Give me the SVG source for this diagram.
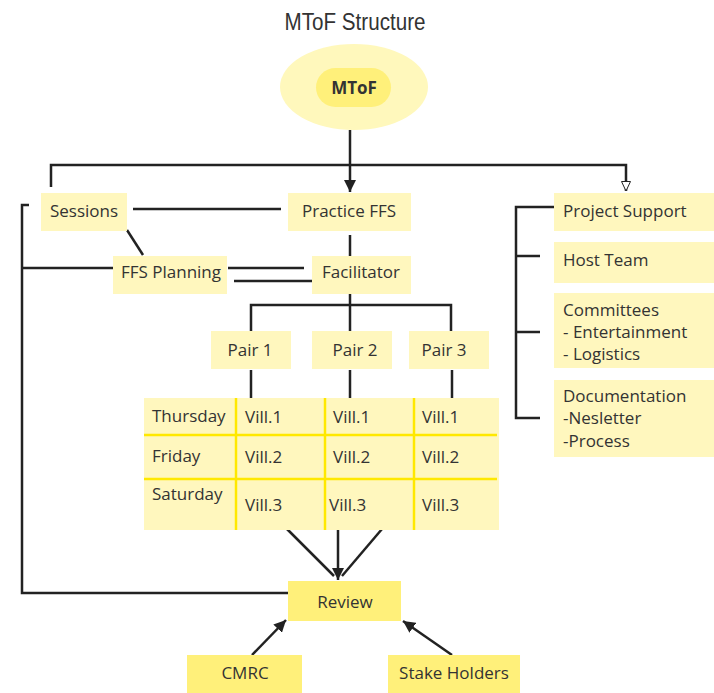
<svg xmlns="http://www.w3.org/2000/svg" width="714" height="693" viewBox="0 0 714 693">
<style>
  .t{font-family:"Open Sans","Noto Sans","Liberation Sans",sans-serif;font-size:17px;fill:#333}
  .c{text-anchor:middle}
  .box{fill:#fff7be}
  .boxs{fill:#fff07a}
  .ln{stroke:#222;stroke-width:2.5;fill:none}
  .div{stroke:#ffe800;stroke-width:2.5}
</style>
<defs>
  <marker id="af" markerUnits="userSpaceOnUse" markerWidth="14" markerHeight="12" refX="12" refY="6" orient="auto">
    <path d="M0,0 L12,6 L0,12 Z" fill="#222"/>
  </marker>
  <marker id="ah" markerUnits="userSpaceOnUse" markerWidth="12" markerHeight="12" refX="10" refY="5" orient="auto">
    <path d="M0.5,0.5 L10,5 L0.5,9.5 Z" fill="#fff" stroke="#222" stroke-width="1"/>
  </marker>
</defs>
<rect width="714" height="693" fill="#fff"/>
<text x="355" y="30" text-anchor="middle" font-family="'Liberation Sans',Arial,sans-serif" font-size="23" fill="#333" textLength="141" lengthAdjust="spacingAndGlyphs">MToF Structure</text>

<g id="connectors">
  <path class="ln" d="M350,130 V192" marker-end="url(#af)"/>
  <path class="ln" d="M51,187 V165 H626 V191" marker-end="url(#ah)"/>
  <path class="ln" d="M133,209 H281"/>
  <path class="ln" d="M127,230 L143,255"/>
  <path class="ln" d="M350,235 V256"/>
  <path class="ln" d="M228,268 H304"/>
  <path class="ln" d="M234,281 H312"/>
  <path class="ln" d="M29,205 H22 V593 H288"/>
  <path class="ln" d="M22,268 H113"/>
  <path class="ln" d="M350,294 V305"/>
  <path class="ln" d="M251,331 V305 H451 V331"/>
  <path class="ln" d="M350,305 V331"/>
  <path class="ln" d="M251,370 V398"/>
  <path class="ln" d="M350,370 V398"/>
  <path class="ln" d="M452,370 V398"/>
  <path class="ln" d="M287,529 L334,576"/>
  <path class="ln" d="M382,529 L342,576"/>
  <path class="ln" d="M338,530 V580" marker-end="url(#af)"/>
  <path class="ln" d="M252,655 L286,620" marker-end="url(#af)"/>
  <path class="ln" d="M452,655 L403,621" marker-end="url(#af)"/>
  <path class="ln" d="M554,207 H516 V418 H540"/>
  <path class="ln" d="M516,256 H540"/>
  <path class="ln" d="M516,332 H540"/>
</g>

<g id="mtof">
  <ellipse cx="354" cy="87" rx="74" ry="43" fill="#fff8bc"/>
  <rect x="316" y="68" width="75" height="39" rx="19.5" fill="#fff07a"/>
  <text class="t c" x="354" y="94" font-weight="bold" font-size="17">MToF</text>
</g>
<g id="sessions">
  <rect class="box" x="41" y="193" width="86" height="38"/>
  <text class="t c" x="84" y="217">Sessions</text>
</g>
<g id="practice">
  <rect class="box" x="288" y="193" width="123" height="38"/>
  <text class="t c" x="349" y="217">Practice FFS</text>
</g>
<g id="planning">
  <rect class="box" x="113" y="256" width="114" height="38"/>
  <text class="t c" x="171" y="278">FFS Planning</text>
</g>
<g id="facilitator">
  <rect class="box" x="312" y="256" width="99" height="38"/>
  <text class="t c" x="361" y="278">Facilitator</text>
</g>
<g id="pair1">
  <rect class="box" x="211" y="331" width="80" height="38"/>
  <text class="t c" x="250" y="356">Pair 1</text>
</g>
<g id="pair2">
  <rect class="box" x="312" y="331" width="80" height="38"/>
  <text class="t c" x="355" y="356">Pair 2</text>
</g>
<g id="pair3">
  <rect class="box" x="409" y="331" width="80" height="38"/>
  <text class="t c" x="444" y="356">Pair 3</text>
</g>
<g id="schedule">
  <rect class="box" x="144" y="398" width="355" height="132"/>
  <line class="div" x1="236" y1="398" x2="236" y2="530"/>
  <line class="div" x1="325" y1="398" x2="325" y2="530"/>
  <line class="div" x1="414" y1="398" x2="414" y2="530"/>
  <line class="div" x1="144" y1="435" x2="497" y2="435"/>
  <line class="div" x1="144" y1="479" x2="497" y2="479"/>
  <text class="t" x="152" y="422">Thursday</text>
  <text class="t" x="245" y="423">Vill.1</text>
  <text class="t" x="333" y="423">Vill.1</text>
  <text class="t" x="422" y="423">Vill.1</text>
  <text class="t" x="152" y="462">Friday</text>
  <text class="t" x="245" y="463">Vill.2</text>
  <text class="t" x="333" y="463">Vill.2</text>
  <text class="t" x="422" y="463">Vill.2</text>
  <text class="t" x="152" y="500">Saturday</text>
  <text class="t" x="245" y="511">Vill.3</text>
  <text class="t" x="329" y="511">Vill.3</text>
  <text class="t" x="422" y="511">Vill.3</text>
</g>
<g id="review">
  <rect class="boxs" x="288" y="581" width="113" height="40"/>
  <text class="t c" x="345" y="608">Review</text>
</g>
<g id="cmrc">
  <rect class="boxs" x="187" y="655" width="115" height="38"/>
  <text class="t c" x="245" y="679">CMRC</text>
</g>
<g id="stakeholders">
  <rect class="boxs" x="388" y="655" width="132" height="38"/>
  <text class="t c" x="454" y="679">Stake Holders</text>
</g>
<g id="projectsupport">
  <rect class="box" x="554" y="193" width="160" height="38"/>
  <text class="t" x="563" y="217">Project Support</text>
</g>
<g id="hostteam">
  <rect class="box" x="554" y="242" width="160" height="41"/>
  <text class="t" x="563" y="266">Host Team</text>
</g>
<g id="committees">
  <rect class="box" x="554" y="293" width="160" height="75"/>
  <text class="t" x="563" y="316">Committees</text>
  <text class="t" x="563" y="338">- Entertainment</text>
  <text class="t" x="563" y="360">- Logistics</text>
</g>
<g id="documentation">
  <rect class="box" x="554" y="380" width="160" height="77"/>
  <text class="t" x="563" y="402">Documentation</text>
  <text class="t" x="563" y="424">-Nesletter</text>
  <text class="t" x="563" y="447">-Process</text>
</g>
</svg>
